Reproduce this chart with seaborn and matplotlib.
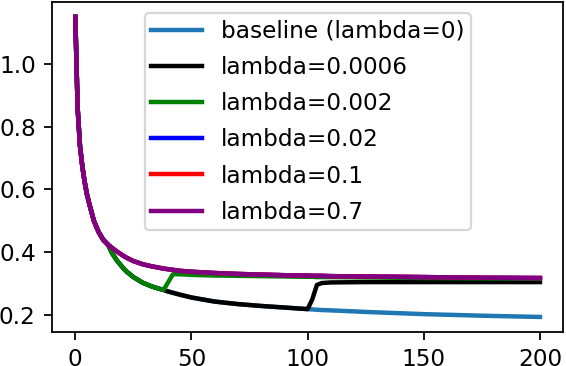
import matplotlib
matplotlib.use("Agg")
import matplotlib.pyplot as plt
import seaborn as sns
import pandas as pd

epochs = [0, 1, 2, 3, 4, 5, 6, 8, 10, 12, 14, 16, 18, 20, 22, 25, 29, 33, 36, 38,
          40, 42, 45, 50, 60, 70, 80, 90, 98, 100, 102, 104, 106, 110, 125, 150, 175, 200]

baseline = [1.15, 0.86, 0.74, 0.675, 0.625, 0.585, 0.555, 0.50, 0.465, 0.44, 0.425, 0.395,
            0.373, 0.355, 0.339, 0.321, 0.303, 0.291, 0.284, 0.280, 0.275, 0.271, 0.265,
            0.256, 0.243, 0.235, 0.229, 0.224, 0.220, 0.219, 0.218, 0.217, 0.216, 0.215,
            0.210, 0.203, 0.198, 0.194]

lam_0006 = [1.15, 0.86, 0.74, 0.675, 0.625, 0.585, 0.555, 0.50, 0.465, 0.44, 0.425, 0.395,
            0.373, 0.355, 0.339, 0.321, 0.303, 0.291, 0.284, 0.280, 0.275, 0.271, 0.265,
            0.256, 0.243, 0.235, 0.229, 0.224, 0.220, 0.219, 0.250, 0.296, 0.302, 0.304,
            0.305, 0.305, 0.305, 0.305]

lam_002 = [1.15, 0.86, 0.74, 0.675, 0.625, 0.585, 0.555, 0.50, 0.465, 0.44, 0.425, 0.395,
           0.373, 0.355, 0.339, 0.321, 0.303, 0.291, 0.284, 0.280, 0.305, 0.330, 0.330,
           0.328, 0.326, 0.325, 0.324, 0.323, 0.322, 0.322, 0.322, 0.321, 0.321, 0.321,
           0.320, 0.318, 0.317, 0.316]

lam_02 = [1.15, 0.86, 0.74, 0.675, 0.625, 0.585, 0.555, 0.50, 0.465, 0.44, 0.425, 0.413,
          0.402, 0.392, 0.383, 0.372, 0.362, 0.355, 0.351, 0.348, 0.346, 0.344, 0.341,
          0.338, 0.334, 0.331, 0.329, 0.327, 0.326, 0.326, 0.325, 0.325, 0.325, 0.324,
          0.323, 0.321, 0.319, 0.318]

lam_1 = [1.15, 0.86, 0.74, 0.675, 0.625, 0.585, 0.555, 0.50, 0.465, 0.44, 0.425, 0.413,
         0.402, 0.392, 0.383, 0.372, 0.362, 0.355, 0.351, 0.348, 0.346, 0.344, 0.341,
         0.338, 0.334, 0.331, 0.329, 0.327, 0.326, 0.326, 0.325, 0.325, 0.325, 0.324,
         0.323, 0.321, 0.319, 0.318]

lam_7 = [1.15, 0.86, 0.74, 0.675, 0.625, 0.585, 0.555, 0.50, 0.465, 0.44, 0.425, 0.413,
         0.402, 0.392, 0.383, 0.372, 0.362, 0.355, 0.351, 0.348, 0.346, 0.344, 0.341,
         0.338, 0.334, 0.331, 0.329, 0.327, 0.326, 0.326, 0.325, 0.325, 0.325, 0.324,
         0.323, 0.321, 0.319, 0.318]

labels = ["baseline (lambda=0)", "lambda=0.0006", "lambda=0.002",
          "lambda=0.02", "lambda=0.1", "lambda=0.7"]
colors = ["tab:blue", "black", "green", "blue", "red", "purple"]
series = [baseline, lam_0006, lam_002, lam_02, lam_1, lam_7]

plt.rcParams["font.size"] = 10.4

fig, ax = plt.subplots(figsize=(3.5375, 2.2875), dpi=160)
fig.subplots_adjust(left=0.092, right=0.995, bottom=0.093, top=0.995)

for vals, lab, col in zip(series, labels, colors):
    df = pd.DataFrame({"epoch": epochs, "loss": vals})
    sns.lineplot(data=df, x="epoch", y="loss", color=col, label=lab, lw=2, ax=ax)

ax.set_xlabel("")
ax.set_ylabel("")
ax.set_xticks([0, 50, 100, 150, 200])
ax.set_yticks([0.2, 0.4, 0.6, 0.8, 1.0])
ax.tick_params(length=3.8)
ax.legend(loc="upper center", labelspacing=0.57, handlelength=2.2, borderpad=0.28)

plt.savefig("out.png", dpi=160)
